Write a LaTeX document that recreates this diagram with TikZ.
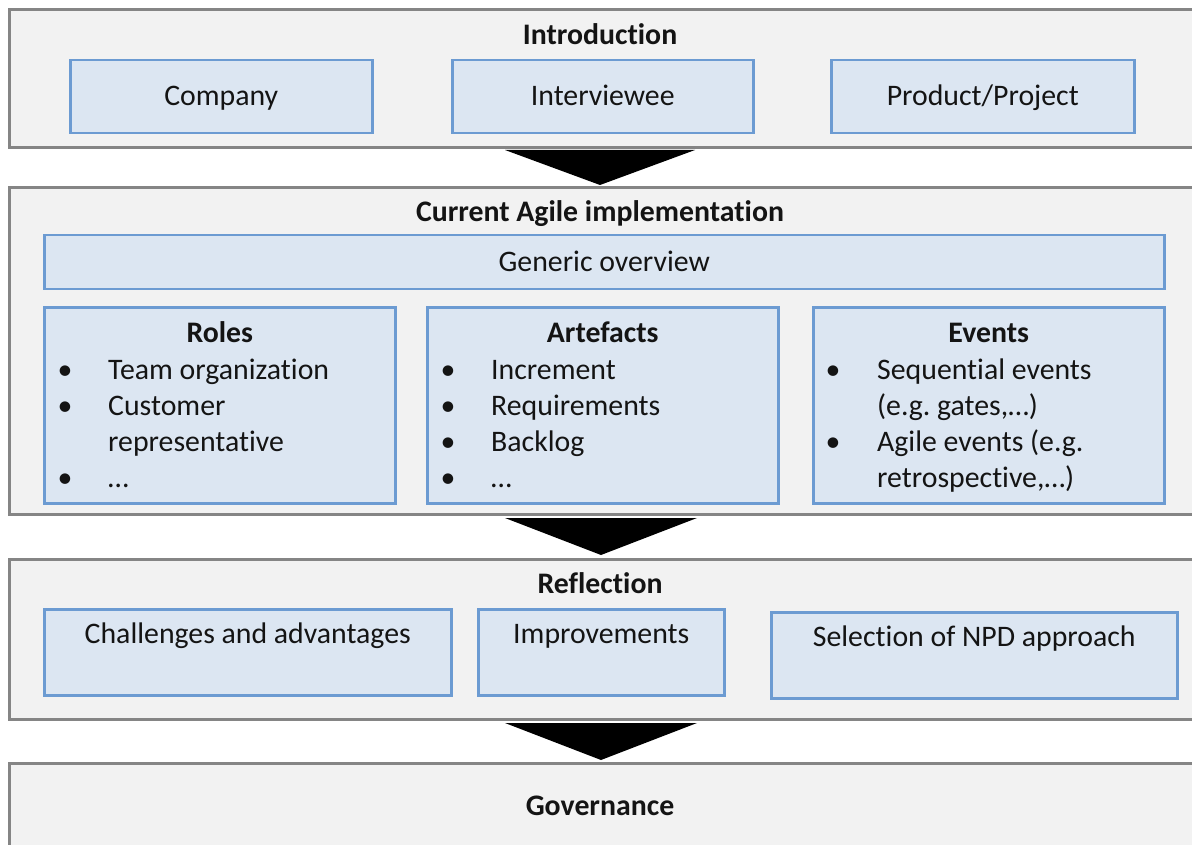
\documentclass[tikz,border=0pt]{standalone}
\usepackage{fontspec}
\setmainfont{Carlito}[Ligatures={NoCommon}]
\frenchspacing
\definecolor{outerfill}{HTML}{F2F2F2}
\definecolor{outerline}{HTML}{858585}
\definecolor{innerfill}{HTML}{DCE6F2}
\definecolor{innerline}{HTML}{6C9BD2}
\definecolor{txt}{HTML}{141414}
\begin{document}
\begin{tikzpicture}[x=1pt,y=-1pt,
  every node/.style={font=\fontsize{29.8}{36}\selectfont, text=txt},
  outer/.style={draw=outerline, fill=outerfill, line width=3pt, rectangle, inner sep=0pt, anchor=north west},
  inner/.style={draw=innerline, fill=innerfill, line width=2.5pt, rectangle, inner sep=0pt, anchor=north west},
  lbl/.style={anchor=base, inner sep=0pt},
  ttl/.style={anchor=base, inner sep=0pt, font=\fontsize{29.8}{36}\selectfont\bfseries},
  item/.style={anchor=base west, inner sep=0pt},
  blt/.style={anchor=base, inner sep=0pt},
  flowarrow/.style={fill=black}]
\useasboundingbox (0,0) rectangle (1192,845);
\clip (0,0) rectangle (1192,845);
\fill[white] (0,0) rectangle (1192,845);
% outer sections
\node[outer, minimum width=1200pt, minimum height=138pt] (intro) at (8,8) {};
\node[outer, minimum width=1200pt, minimum height=327pt] (cai) at (8,186) {};
\node[outer, minimum width=1200pt, minimum height=160pt] (refl) at (8,558) {};
\node[outer, minimum width=1200pt, minimum height=110pt] (gov) at (8,762) {};
% arrows between sections
\fill[flowarrow] (505,150) -- (695,150) -- (600,185) -- cycle;
\fill[flowarrow] (505,518) -- (697,518) -- (601,555) -- cycle;
\fill[flowarrow] (505,723) -- (697,723) -- (601,760) -- cycle;
% titles
\node[ttl] (introT) at (600,45) {Introduction};
\node[ttl] (caiT) at (600,222) {Current Agile implementation};
\node[ttl] (reflT) at (600,593) {Reflection};
\node[ttl] (govT) at (600,815) {Governance};
% introduction boxes
\node[inner, minimum width=302pt, minimum height=73pt] (company) at (69,59) {};
\node[inner, minimum width=301pt, minimum height=73pt] (interviewee) at (451,59) {};
\node[inner, minimum width=303pt, minimum height=73pt] (product) at (830,59) {};
\node[lbl] (companyT) at (company.center |- 0,106) {Company};
\node[lbl] (intervieweeT) at (interviewee.center |- 0,106) {Interviewee};
\node[lbl] (productT) at (product.center |- 0,106) {Product/Project};
% current agile implementation
\node[inner, minimum width=1120pt, minimum height=54pt] (generic) at (43,234) {};
\node[lbl] (genericT) at (generic.center |- 0,272) {Generic overview};
\node[inner, minimum width=351pt, minimum height=196pt] (roles) at (43,306) {};
\node[inner, minimum width=351pt, minimum height=196pt] (artefacts) at (426,306) {};
\node[inner, minimum width=351pt, minimum height=196pt] (events) at (812,306) {};
\node[ttl] (rolesT) at (roles.center |- 0,342) {Roles};
\node[ttl] (artefactsT) at (artefacts.center |- 0,342) {Artefacts};
\node[ttl] (eventsT) at (events.center |- 0,342) {Events};
% roles items
\node[blt] (rb1) at (65,379) {•};
\node[item] (ri1) at (108,379) {Team organization};
\node[blt] (rb2) at (65,415) {•};
\node[item] (ri2) at (108,415) {Customer};
\node[item] (ri2b) at (108,451) {representative};
\node[blt] (rb3) at (65,487) {•};
\node[item] (ri3) at (108,487) {…};
% artefacts items
\node[blt] (ab1) at (448,379) {•};
\node[item] (ai1) at (491,379) {Increment};
\node[blt] (ab2) at (448,415) {•};
\node[item] (ai2) at (491,415) {Requirements};
\node[blt] (ab3) at (448,451) {•};
\node[item] (ai3) at (491,451) {Backlog};
\node[blt] (ab4) at (448,487) {•};
\node[item] (ai4) at (491,487) {…};
% events items
\node[blt] (eb1) at (833,379) {•};
\node[item] (ei1) at (877,379) {Sequential events};
\node[item] (ei1b) at (877,415) {(e.g. gates,…)};
\node[blt] (eb2) at (833,451) {•};
\node[item] (ei2) at (877,451) {Agile events (e.g.};
\node[item] (ei2b) at (877,487) {retrospective,…)};
% reflection boxes
\node[inner, minimum width=407pt, minimum height=86pt] (challenges) at (43,608) {};
\node[inner, minimum width=246pt, minimum height=86pt] (improvements) at (477,608) {};
\node[inner, minimum width=406pt, minimum height=86pt] (selection) at (770,611) {};
\node[lbl] (challengesT) at (challenges.center |- 0,643) {Challenges and advantages};
\node[lbl] (improvementsT) at (improvements.center |- 0,643) {Improvements};
\node[lbl] (selectionT) at (selection.center |- 0,646) {Selection of NPD approach};
\end{tikzpicture}
\end{document}
